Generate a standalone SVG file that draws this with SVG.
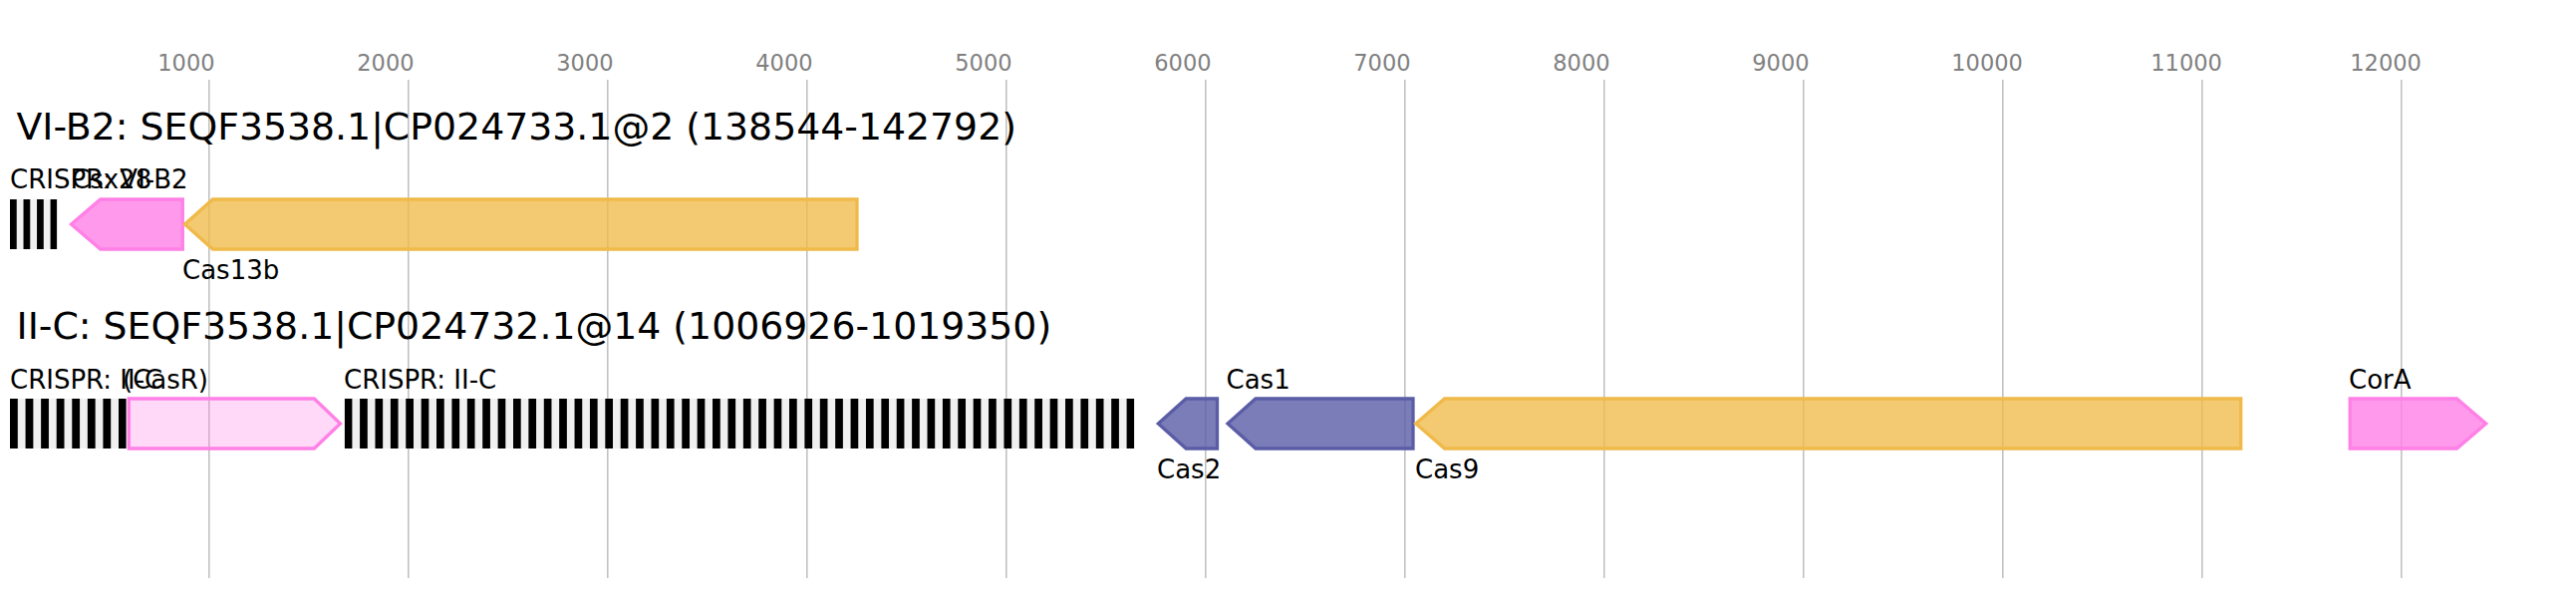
<svg xmlns="http://www.w3.org/2000/svg" width="2585" height="600" viewBox="0 0 2585 600">
  <style>
    .grid line { stroke: #bebebe; stroke-width: 1.5; }
    .tick { font-family: "DejaVu Sans", "Liberation Sans", sans-serif; font-size: 22.5px; fill: #808080; }
    .title { font-family: "DejaVu Sans", "Liberation Sans", sans-serif; font-size: 37.8px; fill: #000; }
    .lbl { font-family: "DejaVu Sans", "Liberation Sans", sans-serif; font-size: 26px; fill: #000; }
    .gene { stroke-width: 3.3; stroke-linejoin: miter; }
    .yellow { fill: #efba49; fill-opacity: 0.78; stroke: #efba49; }
    .pink { fill: #ff80e6; fill-opacity: 0.8; stroke: #ff80e6; }
    .pinklight { fill: #ff80e6; fill-opacity: 0.3; stroke: #ff80e6; }
    .purple { fill: #5a5da6; fill-opacity: 0.8; stroke: #5a5da6; }
  </style>
  <defs>
    <pattern id="arrA" patternUnits="userSpaceOnUse" x="10" y="200" width="13.53" height="50">
      <rect x="0" y="0" width="13.53" height="50" fill="#f0f0f0"/>
      <rect x="0" y="0" width="6.7" height="50" fill="#000"/>
    </pattern>
    <pattern id="arrB" patternUnits="userSpaceOnUse" x="10" y="400" width="15.57" height="50">
      <rect x="0" y="0" width="15.57" height="50" fill="#f0f0f0"/>
      <rect x="0" y="0" width="7.8" height="50" fill="#000"/>
    </pattern>
    <pattern id="arrC" patternUnits="userSpaceOnUse" x="345.7" y="400" width="15.39" height="50">
      <rect x="0" y="0" width="15.39" height="50" fill="#f0f0f0"/>
      <rect x="0" y="0" width="7.7" height="50" fill="#000"/>
    </pattern>
  </defs>
  <rect x="0" y="0" width="2585" height="600" fill="#fff"/>

  <g id="axis">
    <g class="grid">
      <line x1="209.8" y1="80" x2="209.8" y2="580"/>
      <line x1="409.8" y1="80" x2="409.8" y2="580"/>
      <line x1="609.8" y1="80" x2="609.8" y2="580"/>
      <line x1="809.8" y1="80" x2="809.8" y2="580"/>
      <line x1="1009.8" y1="80" x2="1009.8" y2="580"/>
      <line x1="1209.8" y1="80" x2="1209.8" y2="580"/>
      <line x1="1409.8" y1="80" x2="1409.8" y2="580"/>
      <line x1="1609.8" y1="80" x2="1609.8" y2="580"/>
      <line x1="1809.8" y1="80" x2="1809.8" y2="580"/>
      <line x1="2009.8" y1="80" x2="2009.8" y2="580"/>
      <line x1="2209.8" y1="80" x2="2209.8" y2="580"/>
      <line x1="2409.8" y1="80" x2="2409.8" y2="580"/>
    </g>
    <g class="tick">
      <text x="158.3" y="70.5">1000</text>
      <text x="358.3" y="70.5">2000</text>
      <text x="558.3" y="70.5">3000</text>
      <text x="758.3" y="70.5">4000</text>
      <text x="958.3" y="70.5">5000</text>
      <text x="1158.3" y="70.5">6000</text>
      <text x="1358.3" y="70.5">7000</text>
      <text x="1558.3" y="70.5">8000</text>
      <text x="1758.3" y="70.5">9000</text>
      <text x="1958.3" y="70.5">10000</text>
      <text x="2158.3" y="70.5">11000</text>
      <text x="2358.3" y="70.5">12000</text>
    </g>
  </g>

  <g id="connectors"/>

  <g id="track1">
    <text class="title" x="16.5" y="140">VI-B2: SEQF3538.1|CP024733.1@2 (138544-142792)</text>
    <g id="crispr-vi-b2">
      <rect x="10" y="200" width="47.29" height="50" fill="url(#arrA)"/>
      <text class="lbl" x="10" y="189">CRISPR: VI-B2</text>
    </g>
    <g id="csx28">
      <path class="gene pink" d="M183.3,200 L100.8,200 L71.5,225 L100.8,250 L183.3,250 Z"/>
      <text class="lbl" x="72" y="189">Csx28</text>
    </g>
    <g id="cas13b">
      <path class="gene yellow" d="M860,200 L213.5,200 L185.5,225 L213.5,250 L860,250 Z"/>
      <text class="lbl" x="183" y="280">Cas13b</text>
    </g>
  </g>

  <g id="track2">
    <text class="title" x="16.5" y="340">II-C: SEQF3538.1|CP024732.1@14 (1006926-1019350)</text>
    <g id="crispr-ii-c-1">
      <rect x="10" y="400" width="116.79" height="50" fill="url(#arrB)"/>
      <text class="lbl" x="10" y="390">CRISPR: II-C</text>
    </g>
    <g id="casr">
      <path class="gene pinklight" d="M129.3,400 L315.3,400 L341.5,425 L315.3,450 L129.3,450 Z"/>
      <text class="lbl" x="123" y="390">(CasR)</text>
    </g>
    <g id="crispr-ii-c-2">
      <rect x="345.7" y="400" width="792.59" height="50" fill="url(#arrC)"/>
      <text class="lbl" x="345" y="390">CRISPR: II-C</text>
    </g>
    <g id="cas2">
      <path class="gene purple" d="M1221.5,400 L1190.2,400 L1162.3,425 L1190.2,450 L1221.5,450 Z"/>
      <text class="lbl" x="1161" y="480">Cas2</text>
    </g>
    <g id="cas1">
      <path class="gene purple" d="M1418,400 L1260,400 L1232,425 L1260,450 L1418,450 Z"/>
      <text class="lbl" x="1230.5" y="390">Cas1</text>
    </g>
    <g id="cas9">
      <path class="gene yellow" d="M2248.7,400 L1449.6,400 L1420.8,425 L1449.6,450 L2248.7,450 Z"/>
      <text class="lbl" x="1420" y="480">Cas9</text>
    </g>
    <g id="cora">
      <path class="gene pink" d="M2358.2,400 L2465.4,400 L2494.7,425 L2465.4,450 L2358.2,450 Z"/>
      <text class="lbl" x="2357" y="390">CorA</text>
    </g>
  </g>
</svg>
